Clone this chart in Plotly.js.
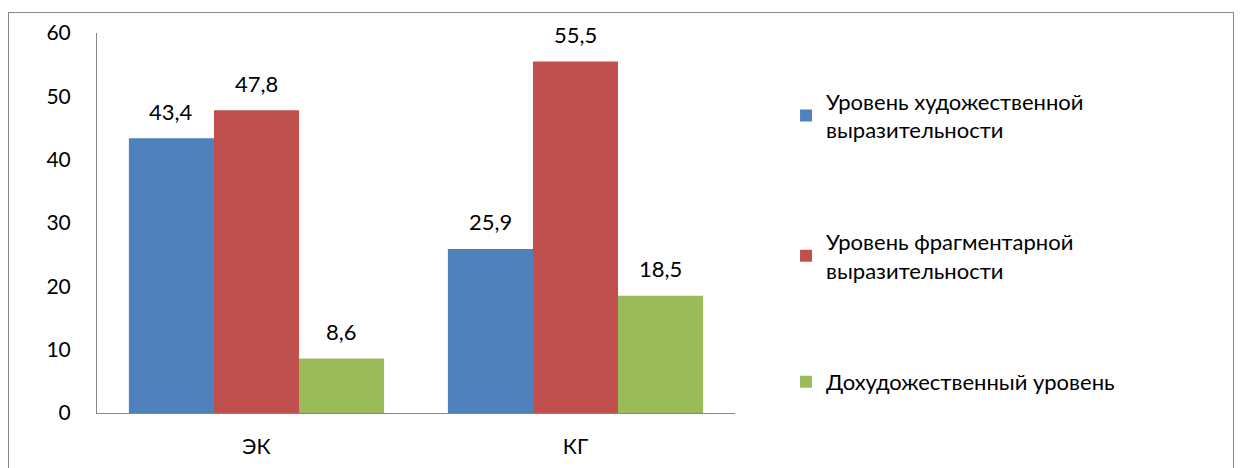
<!DOCTYPE html>
<html><head><meta charset="utf-8">
<script src="https://cdn.plot.ly/plotly-3.0.1.min.js"></script>
<style>body{margin:0;background:#fff}#frame{position:absolute;left:8px;top:12px;width:1224px;height:480px;border:1px solid #868686;pointer-events:none}</style>
</head><body>
<div id="chart" style="width:1244px;height:468px"></div>
<div id="frame"></div>
<script>
const categories = ["ЭК", "КГ"];
const seriesNames = ["Уровень художественной<br>выразительности", "Уровень фрагментарной<br>выразительности", "Дохудожественный уровень"];
const artistic = [43.4, 25.9];
const fragmentary = [47.8, 55.5];
const preArtistic = [8.6, 18.5];
const colors = ["#4F81BD", "#C0504D", "#9BBB59"];
const yTicks = [0, 10, 20, 30, 40, 50, 60];

const values = [artistic, fragmentary, preArtistic];
const font = "Lato, 'Open Sans', sans-serif";
const W = 1244, H = 468, M = {l: 97, r: 509, t: 33, b: 55};
const bargap = 0.2;
const plotW = W - M.l - M.r;
const barPx = plotW / categories.length * (1 - bargap) / values.length;

const traces = values.map((v, i) => ({
  type: "bar", x: categories, y: v, name: seriesNames[i],
  legendgroup: "g" + i,
  marker: {color: colors[i]}
}));
const annotations = [];
values.forEach((v, i) => v.forEach((val, j) => annotations.push({
  x: categories[j], y: val, xref: "x", yref: "y",
  text: val.toFixed(1).replace(".", ","), showarrow: false,
  xshift: (i - (values.length - 1) / 2) * barPx, yshift: 27, yanchor: "middle",
  font: {size: 22, color: "#000", family: font}
})));
Plotly.newPlot("chart", traces, {
  width: W, height: H, margin: M,
  barmode: "group", bargap: bargap, bargroupgap: 0,
  font: {family: font, size: 21, color: "#000"},
  showlegend: true, annotations: annotations,
  legend: {x: 1.08, y: 0.875, xanchor: "left", yanchor: "top", traceorder: "grouped", tracegroupgap: 80,
    font: {size: 22, family: font}, itemwidth: 30},
  xaxis: {showline: true, linecolor: "#868686", linewidth: 1, ticks: "", ticklabelstandoff: 15,
    tickfont: {size: 21}, showgrid: false},
  yaxis: {range: [0, 60], tickvals: yTicks, showline: true, linecolor: "#868686", linewidth: 1,
    ticks: "", ticklabelstandoff: 21, showgrid: false, zeroline: false, tickfont: {size: 21}},
  plot_bgcolor: "#fff", paper_bgcolor: "#fff"
}, {staticPlot: true});
</script>
</body></html>
